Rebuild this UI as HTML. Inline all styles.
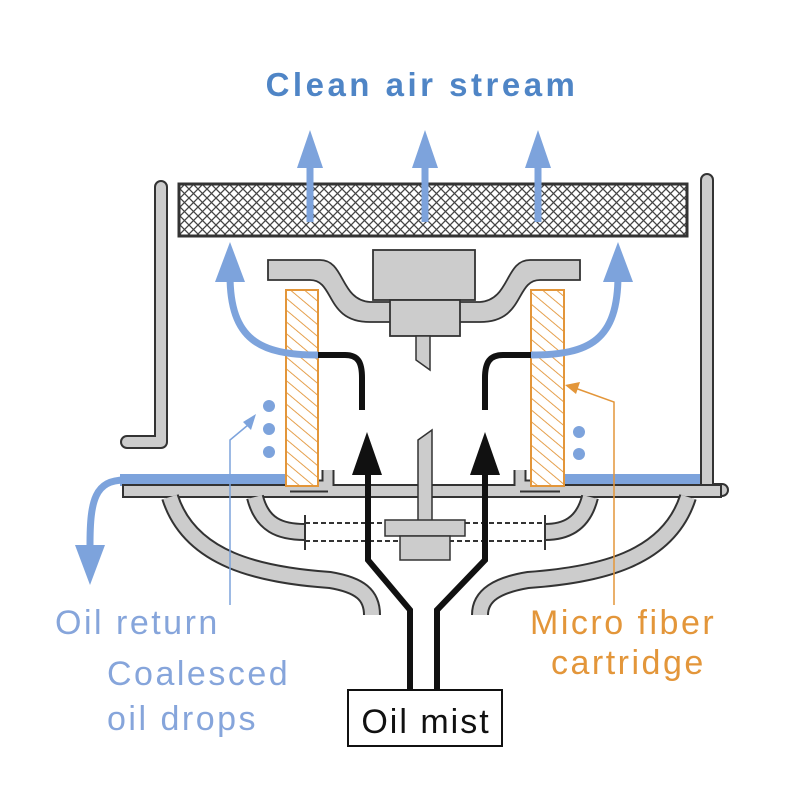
<!DOCTYPE html>
<html><head><style>
body{margin:0;background:#fff}
svg{display:block}
text{font-family:"Liberation Sans",sans-serif}
</style></head><body>
<svg width="800" height="800" viewBox="0 0 800 800" xmlns="http://www.w3.org/2000/svg">
<defs>
<pattern id="mesh" width="9" height="9" patternUnits="userSpaceOnUse">
<rect width="9" height="9" fill="#fff"/>
<path d="M0 0L9 9M9 0L0 9" stroke="#444" stroke-width="1.3"/>
</pattern>
<pattern id="hatch" width="9" height="9" patternUnits="userSpaceOnUse" patternTransform="rotate(-50)">
<rect width="9" height="9" fill="#fff"/>
<line x1="0" y1="0" x2="0" y2="9" stroke="#e3963a" stroke-width="1.8"/>
</pattern>
</defs>

<text x="422" y="96" text-anchor="middle" font-size="33" font-weight="bold" fill="#4f85c6" letter-spacing="3.5">Clean air stream</text>

<g fill="none" stroke-linecap="round" stroke-linejoin="round">
<path d="M161 187 V442 H127" stroke="#333" stroke-width="14"/>
<path d="M161 187 V442 H127" stroke="#ccc" stroke-width="10"/>
<path d="M707 180 V490 H722" stroke="#333" stroke-width="14"/>
<path d="M707 180 V490 H722" stroke="#ccc" stroke-width="10"/>
</g>

<path d="M120 474 H285 V486 H120Z" fill="#7da3dc"/>
<path d="M565 474 H700 V486 H565Z" fill="#7da3dc"/>

<rect x="123" y="485" width="598" height="12" fill="#ccc" stroke="#333" stroke-width="2"/>

<g fill="none" stroke-linejoin="round">
<path d="M170 497 C190 560 260 575 330 580 C360 585 372 595 372 615" stroke="#333" stroke-width="18"/>
<path d="M170 497 C190 560 260 575 330 580 C360 585 372 595 372 615" stroke="#ccc" stroke-width="14"/>
<path d="M688 497 C668 560 598 575 528 580 C498 585 480 595 480 615" stroke="#333" stroke-width="18"/>
<path d="M688 497 C668 560 598 575 528 580 C498 585 480 595 480 615" stroke="#ccc" stroke-width="14"/>
<path d="M255 497 C262 525 280 532 305 532" stroke="#333" stroke-width="18"/>
<path d="M255 497 C262 525 280 532 305 532" stroke="#ccc" stroke-width="14"/>
<path d="M590 497 C583 525 565 532 545 532" stroke="#333" stroke-width="18"/>
<path d="M590 497 C583 525 565 532 545 532" stroke="#ccc" stroke-width="14"/>
<path d="M328 486 V470 M328 486 H290" stroke="#333" stroke-width="13"/>
<path d="M328 486 V470 M328 486 H290" stroke="#ccc" stroke-width="9"/>
<path d="M520 486 V470 M520 486 H560" stroke="#333" stroke-width="13"/>
<path d="M520 486 V470 M520 486 H560" stroke="#ccc" stroke-width="9"/>
</g>
<g stroke="#333" stroke-width="2">
<line x1="305" y1="523" x2="545" y2="523" stroke-dasharray="5 3"/>
<line x1="305" y1="541" x2="545" y2="541" stroke-dasharray="5 3"/>
<line x1="305" y1="515" x2="305" y2="550"/>
<line x1="545" y1="515" x2="545" y2="550"/>
</g>

<path d="M418 440 L432 430 V522 H418Z" fill="#ccc" stroke="#333" stroke-width="1.5"/>
<rect x="385" y="520" width="80" height="16" fill="#ccc" stroke="#333" stroke-width="1.5"/>
<rect x="400" y="536" width="50" height="24" fill="#ccc" stroke="#333" stroke-width="1.5"/>

<rect x="179" y="184" width="508" height="52" fill="url(#mesh)" stroke="#333" stroke-width="3"/>

<path d="M268 260 H320 C345 260 340 300 370 302 H480 C510 300 505 260 530 260 H580 V280 H540 C515 280 525 322 480 322 H370 C325 322 335 280 310 280 H268Z" fill="#ccc" stroke="#333" stroke-width="1.8"/>
<rect x="373" y="250" width="102" height="50" fill="#ccc" stroke="#333" stroke-width="1.8"/>
<rect x="390" y="300" width="70" height="36" fill="#ccc" stroke="#333" stroke-width="1.8"/>
<path d="M416 336 H430 V370 L416 360Z" fill="#ccc" stroke="#333" stroke-width="1.5"/>

<rect x="286" y="290" width="32" height="196" fill="url(#hatch)" stroke="#e3963a" stroke-width="2"/>
<rect x="531" y="290" width="33" height="196" fill="url(#hatch)" stroke="#e3963a" stroke-width="2"/>

<g stroke="#7da3dc" stroke-width="7" fill="none">
<line x1="310" y1="222" x2="310" y2="160"/>
<line x1="425" y1="222" x2="425" y2="160"/>
<line x1="538" y1="222" x2="538" y2="160"/>
<path d="M318 355 C260 355 230 340 230 275"/>
<path d="M531 355 C590 355 618 340 618 275"/>
<path d="M125 480 C95 480 90 500 90 545"/>
</g>
<g fill="#7da3dc">
<path d="M297 168 L310 130 L323 168Z"/>
<path d="M412 168 L425 130 L438 168Z"/>
<path d="M525 168 L538 130 L551 168Z"/>
<path d="M215 282 L230 242 L245 282Z"/>
<path d="M603 282 L618 242 L633 282Z"/>
<path d="M75 545 L90 585 L105 545Z"/>
<circle cx="269" cy="406" r="6"/><circle cx="269" cy="429" r="6"/><circle cx="269" cy="452" r="6"/>
<circle cx="579" cy="432" r="6"/><circle cx="579" cy="454" r="6"/>
</g>

<g stroke="#111" stroke-width="6" fill="none">
<path d="M318 355 H345 C358 355 362 362 362 378 V410"/>
<path d="M531 355 H503 C490 355 485 362 485 378 V410"/>
<path d="M410 690 V610 L368 560 V470"/>
<path d="M437 690 V610 L485 560 V470"/>
</g>
<path d="M352 475 L367 432 L382 475Z" fill="#111"/>
<path d="M470 475 L485 432 L500 475Z" fill="#111"/>

<g stroke="#7da3dc" stroke-width="1.5" fill="none">
<path d="M230 605 V440 L248 425"/>
</g>
<path d="M243 422 L256 414 L251 430Z" fill="#7da3dc"/>
<g stroke="#e3963a" stroke-width="1.5" fill="none">
<path d="M614 605 V402 L575 388"/>
</g>
<path d="M565 385 L580 382 L576 394Z" fill="#e3963a"/>

<text x="55" y="634" font-size="34" fill="#86a5db" letter-spacing="2.5">Oil return</text>
<text x="107" y="685" font-size="34" fill="#86a5db" letter-spacing="2.5">Coalesced</text>
<text x="107" y="730" font-size="34" fill="#86a5db" letter-spacing="2.5">oil drops</text>
<text x="530" y="634" font-size="34" fill="#e3963a" letter-spacing="2.5">Micro fiber</text>
<text x="551" y="674" font-size="34" fill="#e3963a" letter-spacing="2.5">cartridge</text>
<rect x="348" y="690" width="154" height="56" fill="#fff" stroke="#111" stroke-width="2"/>
<text x="426" y="733" font-size="34" text-anchor="middle" fill="#111" letter-spacing="2">Oil mist</text>
</svg>
</body></html>
